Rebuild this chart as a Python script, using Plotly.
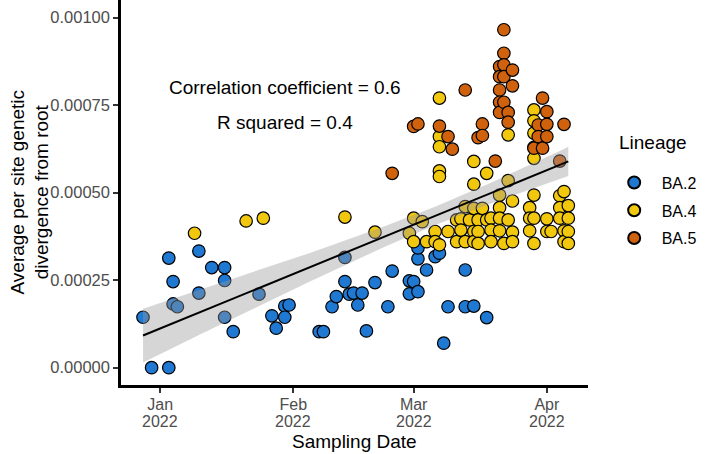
import numpy as np
import pandas as pd
import plotly.graph_objects as go

# ---- data ----
ba2_dates = ["2021-12-28", "2021-12-30", "2022-01-03", "2022-01-03", "2022-01-04", "2022-01-04",
             "2022-01-05", "2022-01-10", "2022-01-10", "2022-01-13", "2022-01-16", "2022-01-16",
             "2022-01-16", "2022-01-18", "2022-01-24", "2022-01-27", "2022-01-28", "2022-01-30",
             "2022-01-31", "2022-01-30", "2022-02-07", "2022-02-08", "2022-02-10", "2022-02-11",
             "2022-02-13", "2022-02-13", "2022-02-14", "2022-02-15", "2022-02-16", "2022-02-17",
             "2022-02-18", "2022-02-20", "2022-02-23", "2022-02-24", "2022-02-28", "2022-02-28",
             "2022-03-01", "2022-03-02", "2022-03-02", "2022-03-02", "2022-03-04", "2022-03-06",
             "2022-03-07", "2022-03-08", "2022-03-09", "2022-03-13", "2022-03-13", "2022-03-15",
             "2022-03-18"]
ba2_values = [0.000144, 0.0, 0.0, 0.000313, 0.000246, 0.000182,
              0.000174, 0.000333, 0.000213, 0.000286, 0.000286, 0.000249,
              0.000144, 0.000103, 0.000210, 0.000148, 0.000113, 0.000176,
              0.000179, 0.000144, 0.000103, 0.000103, 0.000174, 0.000203,
              0.000246, 0.000315, 0.000210, 0.000213, 0.000179, 0.000213,
              0.000105, 0.000243, 0.000174, 0.000276, 0.000248, 0.000211,
              0.000246, 0.000217, 0.000311, 0.000342, 0.000279, 0.000317,
              0.000327, 0.000070, 0.000174, 0.000174, 0.000279, 0.000176,
              0.000143]

ba4_dates = ["2022-01-09", "2022-01-21", "2022-01-25", "2022-02-13", "2022-02-20", "2022-02-28",
             "2022-03-01", "2022-03-01", "2022-03-03", "2022-03-04", "2022-03-06", "2022-03-06",
             "2022-03-07", "2022-03-07", "2022-03-07", "2022-03-07", "2022-03-07", "2022-03-07",
             "2022-03-09", "2022-03-11", "2022-03-11", "2022-03-12", "2022-03-12", "2022-03-13",
             "2022-03-13", "2022-03-14", "2022-03-15", "2022-03-15", "2022-03-15", "2022-03-15",
             "2022-03-15", "2022-03-16", "2022-03-16", "2022-03-16", "2022-03-17", "2022-03-18",
             "2022-03-18", "2022-03-19", "2022-03-19", "2022-03-19", "2022-03-21", "2022-03-21",
             "2022-03-21", "2022-03-21", "2022-03-22", "2022-03-23", "2022-03-23", "2022-03-23",
             "2022-03-24", "2022-03-24", "2022-03-24", "2022-03-28", "2022-03-28", "2022-03-28",
             "2022-03-29", "2022-03-29", "2022-03-29", "2022-03-29", "2022-03-29", "2022-03-29",
             "2022-03-29", "2022-03-29", "2022-04-01", "2022-04-01", "2022-04-02", "2022-04-04",
             "2022-04-04", "2022-04-04", "2022-04-05", "2022-04-05", "2022-04-05", "2022-04-06",
             "2022-04-06", "2022-04-06", "2022-04-06"]
ba4_values = [0.000384, 0.000419, 0.000427, 0.000430, 0.000387, 0.000384,
              0.000427, 0.000360, 0.000417, 0.000360, 0.000389, 0.000360,
              0.000770, 0.000660, 0.000631, 0.000562, 0.000546, 0.000351,
              0.000389, 0.000422, 0.000360, 0.000425, 0.000393, 0.000460,
              0.000360, 0.000422, 0.000589, 0.000524, 0.000455, 0.000389,
              0.000360, 0.000422, 0.000389, 0.000355, 0.000455, 0.000555,
              0.000422, 0.000427, 0.000393, 0.000360, 0.000493, 0.000457,
              0.000427, 0.000391, 0.000355, 0.000665, 0.000534, 0.000422,
              0.000476, 0.000387, 0.000360, 0.000457, 0.000427, 0.000391,
              0.000736, 0.000705, 0.000670, 0.000629, 0.000598, 0.000493,
              0.000427, 0.000355, 0.000425, 0.000389, 0.000389, 0.000491,
              0.000457, 0.000427, 0.000503, 0.000391, 0.000360, 0.000463,
              0.000427, 0.000389, 0.000355]

ba5_dates = ["2022-02-24", "2022-03-01", "2022-03-02", "2022-03-07", "2022-03-09", "2022-03-10",
             "2022-03-13", "2022-03-16", "2022-03-17", "2022-03-17", "2022-03-20", "2022-03-21",
             "2022-03-21", "2022-03-21", "2022-03-21", "2022-03-21", "2022-03-22", "2022-03-22",
             "2022-03-22", "2022-03-22", "2022-03-22", "2022-03-23", "2022-03-23", "2022-03-24",
             "2022-03-24", "2022-03-29", "2022-03-30", "2022-03-30", "2022-03-31", "2022-03-31",
             "2022-04-01", "2022-04-01", "2022-04-01", "2022-04-04", "2022-04-05"]
ba5_values = [0.000555, 0.000689, 0.000696, 0.000690, 0.000660, 0.000624,
              0.000793, 0.000657, 0.000696, 0.000663, 0.000590, 0.000860,
              0.000831, 0.000793, 0.000758, 0.000729, 0.000965, 0.000898,
              0.000865, 0.000831, 0.000758, 0.000729, 0.000701, 0.000850,
              0.000805, 0.000627, 0.000693, 0.000660, 0.000770, 0.000627,
              0.000731, 0.000695, 0.000660, 0.000590, 0.000695]

lineages = ["BA.2", "BA.4", "BA.5"]
colors = {"BA.2": "#1F78D1", "BA.4": "#F2C80F", "BA.5": "#D0620E"}

y_ticks = [0.0, 0.00025, 0.0005, 0.00075, 0.001]
x_ticks = ["2022-01-01", "2022-02-01", "2022-03-01", "2022-04-01"]
x_months = ["Jan", "Feb", "Mar", "Apr"]
x_years = ["2022", "2022", "2022", "2022"]

df = pd.concat([
    pd.DataFrame({"date": ba2_dates, "div": ba2_values, "lineage": "BA.2"}),
    pd.DataFrame({"date": ba4_dates, "div": ba4_values, "lineage": "BA.4"}),
    pd.DataFrame({"date": ba5_dates, "div": ba5_values, "lineage": "BA.5"}),
])
df["date"] = pd.to_datetime(df["date"])

# linear fit + 95% CI, like geom_smooth(method = "lm")
t0 = df["date"].min()
xd = (df["date"] - t0).dt.days.values.astype(float)
yv = df["div"].values
n = len(xd)
b, a = np.polyfit(xd, yv, 1)
resid = yv - (a + b * xd)
s = np.sqrt(np.sum(resid ** 2) / (n - 2))
sxx = np.sum((xd - xd.mean()) ** 2)
xg = np.linspace(xd.min(), xd.max(), 80)
yg = a + b * xg
se = s * np.sqrt(1.0 / n + (xg - xd.mean()) ** 2 / sxx)
tq = 1.97
dg = t0 + pd.to_timedelta(xg, unit="D")

fnt = "Liberation Sans, Arial, sans-serif"

fig = go.Figure()
for lin in lineages:
    d = df[df["lineage"] == lin]
    fig.add_trace(go.Scatter(x=d["date"], y=d["div"], mode="markers", name=lin,
                             legendgroup=lin,
                             marker=dict(size=12.5, color=colors[lin],
                                         line=dict(color="black", width=1.2))))

# ribbon drawn over the points (semi transparent), then the line
fig.add_trace(go.Scatter(x=list(dg) + list(dg[::-1]),
                         y=list(yg + tq * se) + list((yg - tq * se)[::-1]),
                         fill="toself", fillcolor="rgba(153,153,153,0.4)",
                         line=dict(width=0), mode="lines", hoverinfo="skip",
                         showlegend=False))
fig.add_trace(go.Scatter(x=dg, y=yg, mode="lines", line=dict(color="black", width=2),
                         showlegend=False))

fig.add_annotation(x="2022-01-30", y=0.0008, xref="x", yref="y", text="Correlation coefficient = 0.6",
                   showarrow=False, font=dict(size=19, color="black", family=fnt))
fig.add_annotation(x="2022-01-30", y=0.0007, xref="x", yref="y", text="R squared = 0.4",
                   showarrow=False, font=dict(size=19, color="black", family=fnt))

# second line of the date labels (year), tighter than a <br> would give
for tv, yr in zip(x_ticks, x_years):
    fig.add_annotation(x=tv, y=-0.094, xref="x", yref="paper", text=yr, showarrow=False,
                       yanchor="middle", font=dict(size=16, color="#4D4D4D"))

# axis titles and legend title
fig.add_annotation(x=0.5, y=-0.147, xref="paper", yref="paper", text="Sampling Date",
                   showarrow=False, yanchor="middle", font=dict(size=19, color="black"))
fig.add_annotation(x=-0.197, y=0.5, xref="paper", yref="paper",
                   text="Average per site genetic<br>divergence from root", textangle=-90,
                   showarrow=False, xanchor="center", yanchor="middle",
                   font=dict(size=19, color="black"))
fig.add_annotation(x=1.063, y=0.631, xref="paper", yref="paper", text="Lineage",
                   showarrow=False, xanchor="left", yanchor="middle",
                   font=dict(size=19, color="black"))

fig.update_layout(
    width=708, height=454,
    margin=dict(l=121, r=120, t=0, b=69),
    plot_bgcolor="white", paper_bgcolor="white",
    font=dict(family=fnt, color="black", size=16),
    legend=dict(x=1.04, y=0.57, xanchor="left", yanchor="top", font=dict(size=16),
                itemsizing="constant", itemwidth=45, tracegroupgap=4),
    xaxis=dict(type="date", range=["2021-12-22 21:00", "2022-04-10 14:00"],
               tickvals=x_ticks, ticktext=x_months, showgrid=False, zeroline=False,
               showline=True, linecolor="black", linewidth=2.5, automargin=False,
               ticks="outside", ticklen=5, tickwidth=2, tickcolor="#333333",
               ticklabelstandoff=-2,
               tickfont=dict(size=16, color="#4D4D4D")),
    yaxis=dict(range=[-0.0000494, 0.00105], tickvals=y_ticks,
               ticktext=["%.5f" % v for v in y_ticks], showgrid=False, zeroline=False,
               showline=True, linecolor="black", linewidth=2.5, automargin=False,
               ticks="outside", ticklen=5, tickwidth=2, tickcolor="#333333",
               tickfont=dict(size=16.5, color="#4D4D4D")),
)

# drop the page's default body margin so the figure sits at the window origin
fig.write_html("out.html", config={"displayModeBar": False},
               post_script="document.body.style.margin='0';")
